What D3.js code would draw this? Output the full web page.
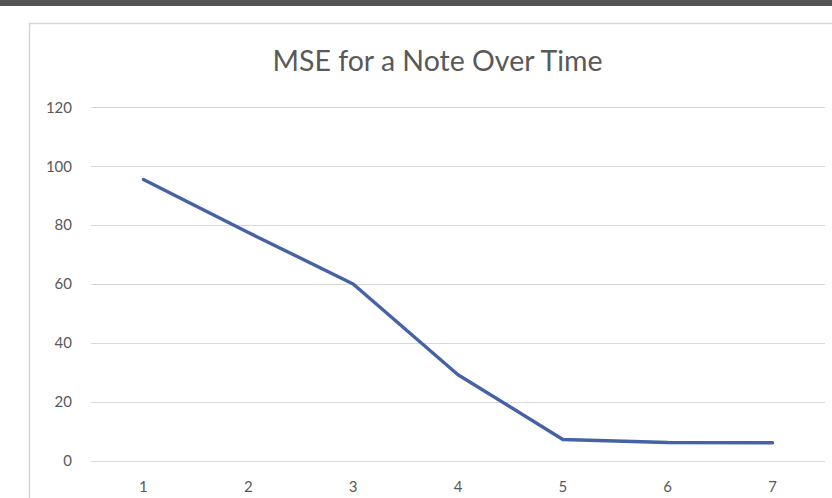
<!DOCTYPE html>
<html>
<head>
<meta charset="utf-8">
<script src="https://cdn.jsdelivr.net/npm/d3@7"></script>
<style>
  html, body { margin: 0; padding: 0; background: #fff; }
  svg { display: block; }
</style>
</head>
<body>
<svg id="chart" width="832" height="498"></svg>
<script>
// MSE per time step
const steps = ["1", "2", "3", "4", "5", "6", "7"];
const mse = [95.5, 77.5, 60, 29.2, 7.2, 6.2, 6.1];
const yTicks = [0, 20, 40, 60, 80, 100, 120];
const title = "MSE for a Note Over Time";

const svg = d3.select("#chart");
const W = 832, H = 498;
const plot = { left: 91, right: 825, top: 107.3, bottom: 460.7 };

// dark strip along the top edge
svg.append("rect").attr("x", 0).attr("y", 0).attr("width", W).attr("height", 6)
  .attr("fill", "#555555");

// chart frame
svg.append("rect").attr("x", 29.5).attr("y", 23.5).attr("width", W).attr("height", H)
  .attr("fill", "#ffffff").attr("stroke", "#d6d6d6").attr("stroke-width", 1.5);

const x = d3.scaleBand().domain(steps).range([plot.left, plot.right]);
const y = d3.scaleLinear().domain([0, 120]).range([plot.bottom, plot.top]);

const font = "Lato, 'Open Sans', sans-serif";

// horizontal gridlines
svg.append("g").selectAll("line").data(yTicks).join("line")
  .attr("x1", plot.left).attr("x2", plot.right)
  .attr("y1", d => Math.round(y(d)) + 0.5).attr("y2", d => Math.round(y(d)) + 0.5)
  .attr("stroke", "#d9d9d9").attr("stroke-width", 1.2);

// y axis labels
const yAxis = d3.axisLeft(y).tickValues(yTicks).tickSize(0).tickPadding(0);
svg.append("g").attr("transform", `translate(72,0)`).call(yAxis)
  .call(g => g.select(".domain").remove())
  .selectAll("text")
  .attr("fill", "#595959").attr("font-family", font).attr("font-size", 15);

// x axis labels
const xAxis = d3.axisBottom(x).tickSize(0).tickPadding(0);
svg.append("g").attr("transform", `translate(0,481)`).call(xAxis)
  .call(g => g.select(".domain").remove())
  .selectAll("text")
  .attr("fill", "#595959").attr("font-family", font).attr("font-size", 15);

// series line
const line = d3.line()
  .x((d, i) => x(steps[i]) + x.bandwidth() / 2)
  .y(d => y(d));
svg.append("path").datum(mse)
  .attr("d", line)
  .attr("fill", "none")
  .attr("stroke", "#4662a6")
  .attr("stroke-width", 3.4)
  .attr("stroke-linejoin", "round")
  .attr("stroke-linecap", "round");

// title
svg.append("text")
  .attr("x", 437.5).attr("y", 71)
  .attr("text-anchor", "middle")
  .attr("fill", "#595959")
  .attr("font-family", font)
  .attr("font-size", 28.5)
  .text(title);
</script>
</body>
</html>
